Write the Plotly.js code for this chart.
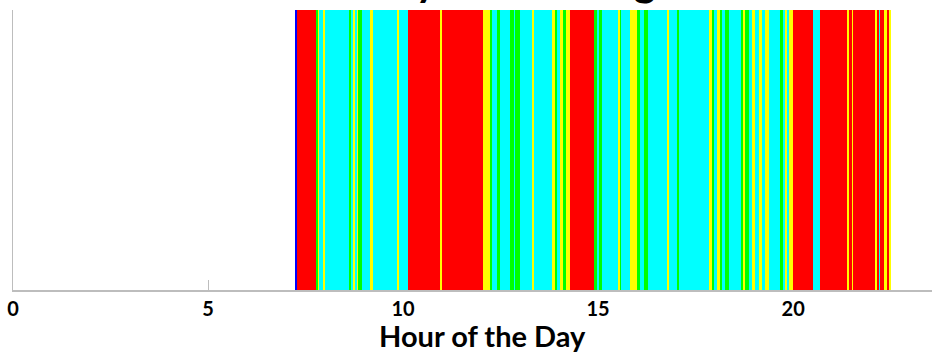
<!DOCTYPE html>
<html>
<head>
<meta charset="utf-8">
<script src="https://cdn.plot.ly/plotly-3.0.1.min.js"></script>
<style>html,body{margin:0;padding:0;background:#fff;}#chart{width:932px;height:353px;}</style>
</head>
<body>
<div id="chart"></div>
<script>
// Start hour of each activity state (state holds until the next start)
const startHours = [7.231, 7.274, 7.769, 7.813, 7.854, 7.941, 8.000, 8.615, 8.667, 8.726,
  8.762, 8.813, 8.854, 8.941, 9.154, 9.223, 9.854, 9.897, 10.136, 10.949,
  11.000, 12.059, 12.231, 12.274, 12.418, 12.487, 12.744, 12.838, 12.879, 13.008,
  13.295, 13.346, 13.821, 13.897, 13.949, 14.013, 14.090, 14.167, 14.269, 14.885,
  14.974, 15.013, 15.103, 15.500, 15.551, 15.597, 15.828, 15.992, 16.077, 16.179,
  16.269, 16.769, 16.828, 17.026, 17.069, 17.838, 17.923, 17.967, 18.051, 18.128,
  18.179, 18.264, 18.367, 18.667, 18.718, 18.769, 18.872, 18.949, 19.033, 19.121,
  19.205, 19.290, 19.392, 19.667, 19.751, 19.795, 19.838, 19.905, 19.987, 20.505,
  20.679, 21.385, 21.444, 21.500, 21.538, 22.103, 22.146, 22.197, 22.238, 22.326,
  22.410, 22.454];
const endHour = 22.505;
// State codes: B = blue, C = cyan, G = green, Y = yellow, R = red
const states = ['B','R','G','Y','C','Y','C','G','C','Y',
  'C','Y','G','C','Y','C','Y','C','R','Y',
  'R','Y','G','C','G','C','G','C','G','C',
  'Y','C','Y','G','C','Y','G','Y','R','G',
  'C','G','C','Y','G','C','Y','G','C','G',
  'C','Y','C','G','C','Y','G','C','Y','G',
  'C','G','C','G','Y','G','C','Y','C','Y',
  'C','Y','C','G','C','Y','C','Y','R','C',
  'R','Y','R','Y','R','Y','R','C','R','Y',
  'R','Y'];
const stateCodes = ['B','C','G','Y','R'];
const stateColors = {B:'#0000ff', C:'#00ffff', G:'#00ff00', Y:'#ffff00', R:'#ff0000'};
const xTicks = [0, 5, 10, 15, 20];
const chartTitle = 'Activity Monitoring';
const xTitle = 'Hour of the Day';

const traces = stateCodes.map(code => {
  const xs = [], ws = [], ys = [];
  for (let i = 0; i < startHours.length; i++) {
    if (states[i] !== code) continue;
    const s = startHours[i];
    const e = i + 1 < startHours.length ? startHours[i + 1] : endHour;
    xs.push((s + e) / 2);
    ws.push(e - s);
    ys.push(1);
  }
  return {
    type: 'bar', x: xs, y: ys, width: ws, base: 0,
    marker: {color: stateColors[code], line: {width: 0}},
    hoverinfo: 'skip', showlegend: false
  };
});

const fontFam = 'Lato, "Open Sans", sans-serif';
const layout = {
  width: 932, height: 353,
  margin: {l: 13, r: 0, t: 10, b: 63, pad: 0},
  paper_bgcolor: '#ffffff', plot_bgcolor: '#ffffff',
  barmode: 'overlay', bargap: 0,
  annotations: [{
    text: chartTitle, showarrow: false,
    font: {family: fontFam, size: 42, color: '#000000', weight: 'bold'},
    xref: 'paper', x: 0.5, xanchor: 'center',
    yref: 'paper', y: 1, yanchor: 'bottom', yshift: 3
  }, {
    text: xTitle, showarrow: false,
    font: {family: fontFam, size: 29, color: '#000000', weight: 'bold'},
    xref: 'paper', x: 0.511, xanchor: 'center',
    yref: 'paper', y: 0, yanchor: 'top', yshift: -26
  }],
  xaxis: {
    range: [0, 23.56], tickvals: xTicks, ticktext: xTicks.map(String),
    ticks: 'inside', ticklen: 10, tickcolor: '#bdbdbd', tickwidth: 1,
    showline: true, linecolor: '#bdbdbd', linewidth: 1.5,
    showgrid: false, zeroline: false, layer: 'below traces',
    tickfont: {family: fontFam, size: 20, color: '#000000', weight: 'bold'}
  },
  yaxis: {
    range: [0, 1], showline: true, linecolor: '#bdbdbd', linewidth: 1.5,
    showticklabels: false, ticks: '', showgrid: false, zeroline: false
  }
};

Plotly.newPlot('chart', traces, layout, {staticPlot: true, displayModeBar: false});
</script>
</body>
</html>
